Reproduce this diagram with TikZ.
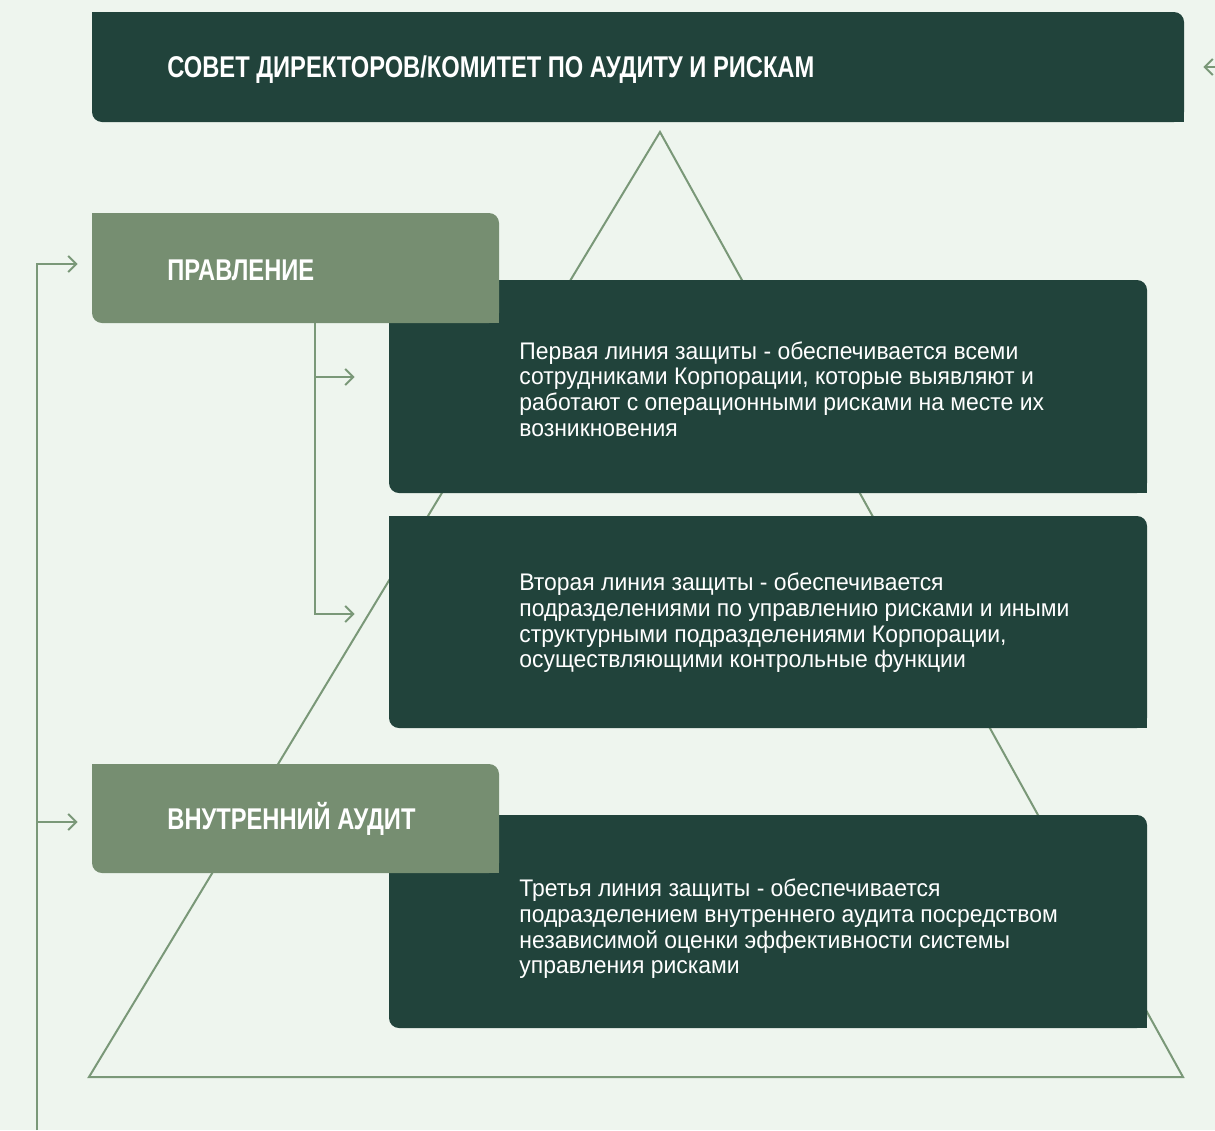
\documentclass[tikz,border=0pt]{standalone}
\usepackage{fontspec}
\setmainfont{Liberation Sans}[FakeStretch=0.84]
\newfontfamily\headfont{Liberation Sans}[FakeStretch=0.79]
\newfontfamily\bodyfont{Liberation Sans}[FakeStretch=0.955]
\usetikzlibrary{arrows.meta}
\definecolor{bgc}{HTML}{EEF5EE}
\definecolor{darkc}{HTML}{21433B}
\definecolor{lightc}{HTML}{768E71}
\definecolor{linec}{HTML}{7A9878}

\begin{document}
\begin{tikzpicture}[x=0.5pt, y=-0.5pt,
    darkbox/.style={fill=darkc, rounded corners=5pt, inner sep=0pt},
    lightbox/.style={fill=lightc, rounded corners=5pt, inner sep=0pt},
    head/.style={anchor=west, text=white, font=\headfont\fontsize{15}{18}\selectfont\bfseries, inner sep=0pt},
    body/.style={anchor=west, text=white, align=left, inner sep=0pt, font=\bodyfont\fontsize{12}{12.85}\selectfont},
    conn/.style={draw=linec, line width=1pt, -{Straight Barb[length=4pt, width=8pt, line width=1pt]}}]
            \fill[bgc] (0,0) rectangle (1215,1130);
            \useasboundingbox (0,0) rectangle (1215,1130);

            % triangle behind the boxes
            \coordinate (apex) at (660,132);
            \coordinate (bl) at (89,1077);
            \coordinate (br) at (1183,1077);
            \draw[linec, line width=1pt] (apex) -- (bl) -- (br) -- cycle;

            \node[darkbox, minimum width=546pt, minimum height=55pt] (council) at (638,67) {};
            \node[darkbox, minimum width=379pt, minimum height=106.5pt] (line1) at (768,386.5) {};
            \node[darkbox, minimum width=379pt, minimum height=106pt] (line2) at (768,622) {};
            \node[darkbox, minimum width=379pt, minimum height=106.5pt] (line3) at (768,921.5) {};
            \foreach \n in {council, line1, line2, line3} {
                \fill[darkc] (\n.north west) rectangle ++(5pt,-5pt);
                \fill[darkc] (\n.south east) rectangle ++(-5pt,5pt);
            }
            \node[lightbox, minimum width=203.5pt, minimum height=55pt] (board) at (295.5,268) {};
            \node[lightbox, minimum width=203.5pt, minimum height=54.5pt] (audit) at (295.5,818.5) {};
            \foreach \n in {board, audit} {
                \fill[lightc] (\n.north west) rectangle ++(5pt,-5pt);
                \fill[lightc] (\n.south east) rectangle ++(-5pt,5pt);
            }

            \node[head] (councilt) at (167,70) {СОВЕТ ДИРЕКТОРОВ/КОМИТЕТ ПО АУДИТУ И РИСКАМ};
            \node[head] (boardt) at (167,270) {ПРАВЛЕНИЕ};
            \node[head] (auditt) at (167,819) {ВНУТРЕННИЙ АУДИТ};
            \node[body] (line1t) at (519,389) {Первая линия защиты - обеспечивается всеми\\сотрудниками Корпорации, которые выявляют и\\работают с операционными рисками на месте их\\возникновения};
            \node[body] (line2t) at (519,623) {Вторая линия защиты - обеспечивается\\подразделениями по управлению рисками и иными\\структурными подразделениями Корпорации,\\осуществляющими контрольные функции};
            \node[body] (line3t) at (519,929) {Третья линия защиты - обеспечивается\\подразделением внутреннего аудита посредством\\независимой оценки эффективности системы\\управления рисками};

            % connectors
            \coordinate (rin) at (1215,67);
            \draw[conn, shorten >=9.5pt] (rin) -- (council.east);
            \coordinate (lbot) at (37,1130);
            \coordinate (brk) at (315,323);
            \coordinate (in1) at ([yshift=4.75pt]line1.west);
            \coordinate (in2) at ([yshift=4pt]line2.west);
            \coordinate (in0) at ([yshift=2pt]board.west);
            \coordinate (in3) at ([yshift=-1.75pt]audit.west);
            \draw[conn, shorten >=7pt] (lbot) |- (in0);
            \draw[conn, shorten >=7pt] (in3 -| lbot) -- (in3);
            \draw[conn, shorten >=17pt] (brk) |- (in2);
            \draw[conn, shorten >=17pt] (in1 -| brk) -- (in1);
\end{tikzpicture}
\end{document}
